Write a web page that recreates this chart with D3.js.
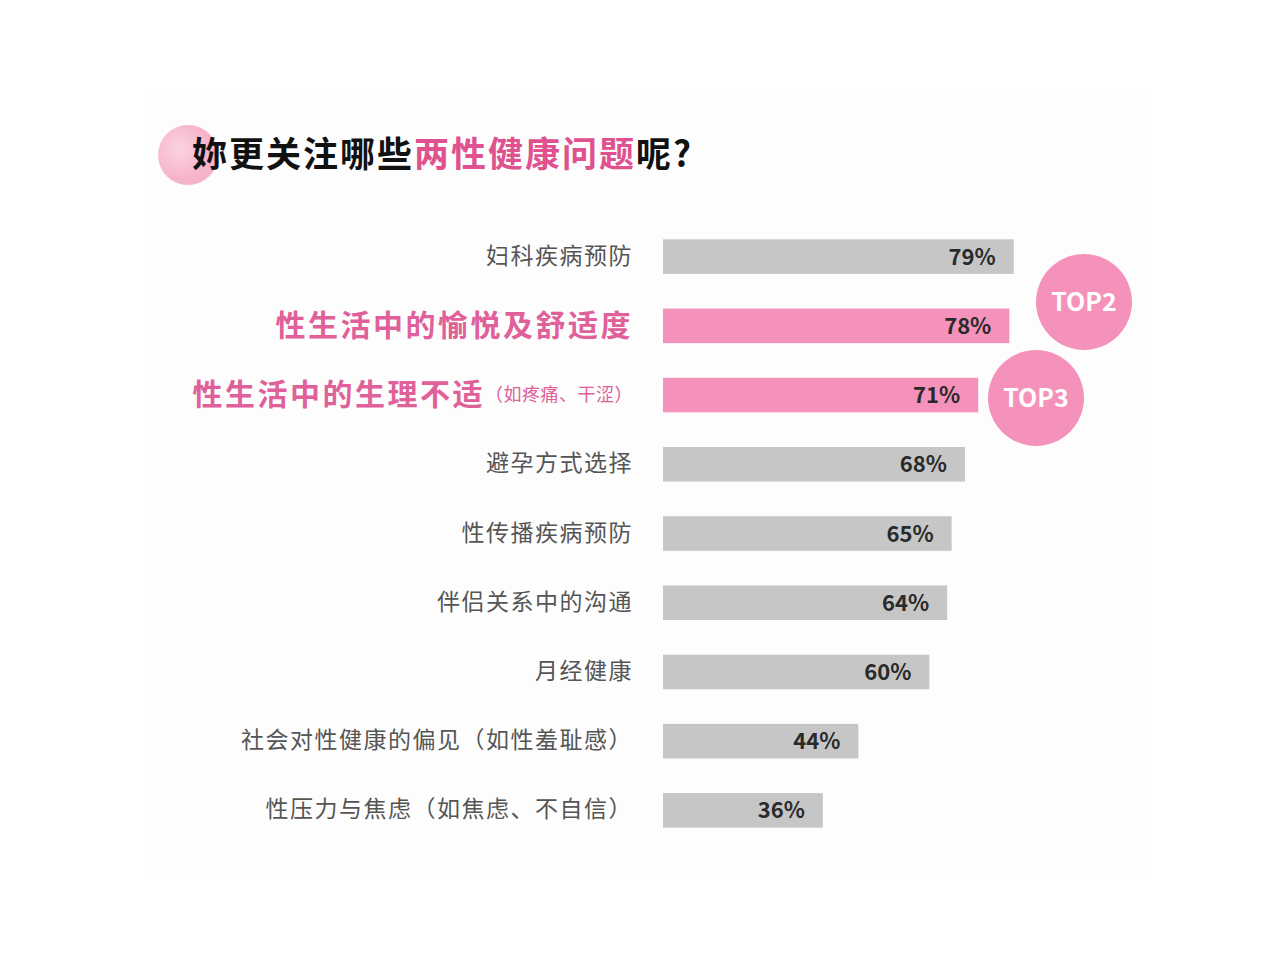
<!DOCTYPE html>
<html><head><meta charset="utf-8">
<script src="https://cdn.jsdelivr.net/npm/d3@7"></script>
<style>body{margin:0;background:#fff}</style></head>
<body><svg id="c" width="1280" height="960"></svg>
<script>
const categories=["妇科疾病预防","性生活中的愉悦及舒适度","性生活中的生理不适","避孕方式选择","性传播疾病预防","伴侣关系中的沟通","月经健康","社会对性健康的偏见（如性羞耻感）","性压力与焦虑（如焦虑、不自信）"];
const subNotes=["","","（如疼痛、干涩）","","","","","",""];
const values=[79,78,71,68,65,64,60,44,36];
const highlight=[false,true,true,false,false,false,false,false,false];
const badges=[{i:1,t:"TOP2"},{i:2,t:"TOP3"}];
const font="'Noto Sans CJK SC','Noto Sans',sans-serif";
const svg=d3.select("#c");
svg.append("rect").attr("x",150).attr("y",90).attr("width",1000).attr("height",790).attr("fill","#fdfdfd");
const g0=svg.append("defs").append("radialGradient").attr("id","blob").attr("cx","35%").attr("cy","40%");
g0.append("stop").attr("offset","0%").attr("stop-color","#fbd3e2");
g0.append("stop").attr("offset","100%").attr("stop-color","#f6b3cc");
svg.append("circle").attr("cx",188).attr("cy",155).attr("r",30).attr("fill","url(#blob)");
const title=svg.append("text").attr("x",192).attr("y",167).attr("font-family",font).attr("font-size",35).attr("letter-spacing",2).attr("font-weight",700);
title.append("tspan").attr("fill","#111").text("妳更关注哪些");
title.append("tspan").attr("fill","#e0518f").text("两性健康问题");
title.append("tspan").attr("fill","#111").text("呢?");
const x=d3.scaleLinear().domain([0,100]).range([663,1107]);
const y=d3.scaleBand().domain(d3.range(categories.length)).range([222,845]).paddingInner(0.5).paddingOuter(0.25);
const rows=svg.selectAll("g.r").data(categories).join("g");
rows.append("rect").attr("x",x(0)).attr("y",(d,i)=>y(i)).attr("height",y.bandwidth())
 .attr("width",(d,i)=>x(values[i])-x(0)).attr("fill",(d,i)=>highlight[i]?"#f592bb":"#c6c6c6");
rows.append("text").attr("x",(d,i)=>x(values[i])-18).attr("y",(d,i)=>y(i)+y.bandwidth()/2+8)
 .attr("text-anchor","end").attr("font-family",font).attr("font-weight",700).attr("font-size",22).attr("fill","#2a2a2a").text((d,i)=>values[i]+"%");
rows.each(function(d,i){
 const t=d3.select(this).append("text").attr("x",633).attr("y",y(i)+y.bandwidth()/2+(highlight[i]?10:7)).attr("text-anchor","end").attr("font-family",font);
 if(highlight[i]){
  t.append("tspan").attr("font-size",30).attr("letter-spacing",2.5).attr("font-weight",700).attr("fill","#e0609a").text(d);
  if(subNotes[i]) t.append("tspan").attr("font-size",18).attr("letter-spacing",0.5).attr("fill","#e0609a").attr("dy",-4).text(subNotes[i]);
 } else t.attr("font-size",23).attr("letter-spacing",1.5).attr("fill","#555").text(d);
});
const bc=[[1084,302],[1036,398]];
badges.forEach((b,k)=>{
 svg.append("circle").attr("cx",bc[k][0]).attr("cy",bc[k][1]).attr("r",48).attr("fill","#f592bb");
 svg.append("text").attr("x",bc[k][0]).attr("y",bc[k][1]+9).attr("text-anchor","middle").attr("font-family",font).attr("font-weight",700).attr("font-size",25).attr("fill","#fff").text(b.t);
});
</script></body></html>
